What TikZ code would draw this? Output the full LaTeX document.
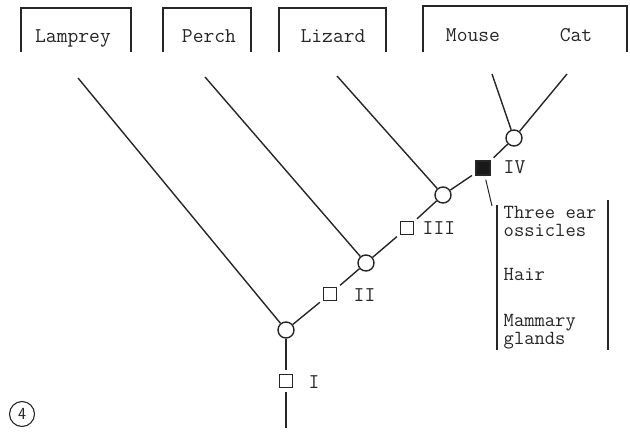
\documentclass[tikz,border=0pt]{standalone}
\usepackage{fontspec}
\begin{document}
\begin{tikzpicture}[x=1pt,y=-1pt, line width=1.4pt, draw=black!85,
 every node/.style={font=\ttfamily\fontsize{21}{16}\selectfont, text=black!85},
 junc/.style={circle,draw,fill=white,minimum size=16pt,inner sep=0pt},
 charbox/.style={rectangle,draw,line width=1.1pt,fill=white,minimum size=13pt,inner sep=0pt},
 filledbox/.style={rectangle,draw,fill=black!90,minimum size=14pt,inner sep=0pt},
 lbl/.style={anchor=west,inner sep=0pt},
 taxon/.style={anchor=base,inner sep=0pt},
 chartext/.style={anchor=north west,inner sep=0pt,align=left,font=\ttfamily\fontsize{20}{18}\selectfont},
 gap/.style={shorten >=4pt},
 gapstart/.style={shorten <=4pt},
 taxonbox/.style={line width=1.2pt}]
\useasboundingbox (0,0) rectangle (630,434);

% taxon boxes (open at bottom)
\draw[taxonbox] (21,52) -- (21,8) -- (131,8) -- (131,52);
\draw[taxonbox] (163,52) -- (163,8) -- (251,8) -- (251,52);
\draw[taxonbox] (279,52) -- (279,8) -- (386,8) -- (386,52);
\draw[taxonbox] (423,52) -- (423,6) -- (627,6) -- (627,52);

\node[taxon] (lamprey) at (73,42) {Lamprey};
\node[taxon] (perch) at (209,42) {Perch};
\node[taxon] (lizard) at (333,42) {Lizard};
\node[taxon] (mouse) at (473,41) {Mouse};
\node[taxon] (cat) at (576,41) {Cat};

% free ends of the branches
\coordinate (lampreyend) at (78,78);
\coordinate (perchend) at (205,77);
\coordinate (lizardend) at (337,76);
\coordinate (mouseend) at (492,74);
\coordinate (catend) at (567,74);
\coordinate (rootend) at (286,428);

% junctions
\node[junc] (j1) at (286,330) {};
\node[junc] (j2) at (366,263) {};
\node[junc] (j3) at (443,195) {};
\node[junc] (j4) at (514,138) {};

% characters
\node[charbox] (c1) at (286,381) {};
\node[charbox] (c2) at (330,294) {};
\node[charbox] (c3) at (407,228) {};
\node[filledbox] (c4) at (483,168) {};

\node[lbl] (l1) at (308,382) {I};
\node[lbl] (l2) at (353,295) {II};
\node[lbl] (l3) at (422,228) {III};
\node[lbl] (l4) at (503,167) {IV};

% branches
\draw (lampreyend) -- (j1);
\draw (perchend) -- (j2);
\draw (lizardend) -- (j3);
\draw (mouseend) -- (j4);
\draw (catend) -- (j4);

% main line
\draw[gap] (j1) -- (c1);
\draw[gapstart] (c1) -- (rootend);
\draw[gap] (j1) -- (c2);
\draw[gapstart] (c2) -- (j2);
\draw[gap] (j2) -- (c3);
\draw[gapstart] (c3) -- (j3);
\draw[gap] (j3) -- (c4);
\draw[gapstart] (c4) -- (j4);

% character list for IV
\coordinate (tickend) at (492,206);
\draw[line width=1pt, gapstart] (c4) -- (tickend);
\draw[line width=1.1pt] (497,205) -- (497,350);
\draw[line width=1.1pt] (608,200) -- (608,350);
\node[chartext] (t1) at (503,206) {Three ear\\ossicles};
\node[chartext] (t2) at (503,268) {Hair};
\node[chartext] (t3) at (503,314) {Mammary\\glands};

% figure number
\node[circle,draw,line width=1.1pt,minimum size=25pt,inner sep=0pt,font=\sffamily\fontsize{17}{17}\selectfont] (fig) at (22,414) {4};
\end{tikzpicture}
\end{document}
